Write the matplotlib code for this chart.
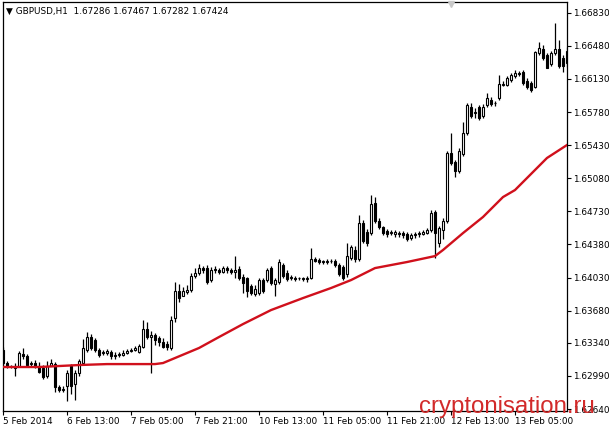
#!/usr/bin/env python3
# GBPUSD H1 candles with a red moving average, MetaTrader look (white theme).
import matplotlib
matplotlib.use("Agg")
import matplotlib.pyplot as plt  # noqa: E402
import numpy as np  # noqa: E402

# --- data (one candle per hour, 142 visible bars) ---
opens = [
    1.6326, 1.6313, 1.6309, 1.6307, 1.6310, 1.6322, 1.6320, 1.6312, 1.6313, 1.6310,
    1.6307, 1.6299, 1.6310, 1.6312, 1.6287, 1.6284, 1.6288, 1.6309, 1.6290, 1.6302,
    1.6313, 1.6326, 1.6340, 1.6337, 1.6326, 1.6323, 1.6323, 1.6324, 1.6320, 1.6321,
    1.6321, 1.6323, 1.6325, 1.6326, 1.6324, 1.6330, 1.6349, 1.6340, 1.6342, 1.6339,
    1.6335, 1.6333, 1.6328, 1.6360, 1.6389, 1.6384, 1.6388, 1.6390, 1.6405, 1.6408,
    1.6413, 1.6413, 1.6400, 1.6411, 1.6411, 1.6409, 1.6413, 1.6411, 1.6409, 1.6412,
    1.6404, 1.6402, 1.6394, 1.6386, 1.6387, 1.6400, 1.6400, 1.6413, 1.6396, 1.6398,
    1.6416, 1.6408, 1.6402, 1.6403, 1.6402, 1.6401, 1.6401, 1.6402, 1.6423, 1.6422,
    1.6419, 1.6419, 1.6420, 1.6421, 1.6416, 1.6414, 1.6407, 1.6424, 1.6432, 1.6423,
    1.6461, 1.6451, 1.6450, 1.6482, 1.6463, 1.6456, 1.6452, 1.6450, 1.6449, 1.6450,
    1.6450, 1.6449, 1.6445, 1.6448, 1.6449, 1.6449, 1.6450, 1.6453, 1.6472, 1.6439,
    1.6453, 1.6463, 1.6535, 1.6525, 1.6516, 1.6534, 1.6556, 1.6583, 1.6577, 1.6583,
    1.6574, 1.6585, 1.6591, 1.6587, 1.6593, 1.6607, 1.6607, 1.6612, 1.6616, 1.6619,
    1.6620, 1.6611, 1.6609, 1.6604, 1.6640, 1.6645, 1.6638, 1.6629, 1.6640, 1.6645,
    1.6635, 1.6630,
]
highs = [
    1.6330, 1.6315, 1.6311, 1.6313, 1.6325, 1.6328, 1.6322, 1.6315, 1.6316, 1.6314,
    1.6311, 1.6315, 1.6317, 1.6314, 1.6289, 1.6288, 1.6305, 1.6312, 1.6305, 1.6317,
    1.6338, 1.6345, 1.6343, 1.6339, 1.6328, 1.6326, 1.6327, 1.6326, 1.6324, 1.6324,
    1.6326, 1.6327, 1.6328, 1.6331, 1.6333, 1.6358, 1.6356, 1.6347, 1.6344, 1.6341,
    1.6339, 1.6336, 1.6362, 1.6398, 1.6396, 1.6393, 1.6395, 1.6408, 1.6413, 1.6417,
    1.6415, 1.6416, 1.6414, 1.6415, 1.6413, 1.6415, 1.6415, 1.6413, 1.6426, 1.6415,
    1.6407, 1.6404, 1.6396, 1.6395, 1.6402, 1.6402, 1.6413, 1.6415, 1.6402, 1.6423,
    1.6418, 1.6411, 1.6406, 1.6405, 1.6404, 1.6404, 1.6405, 1.6434, 1.6425, 1.6424,
    1.6422, 1.6423, 1.6423, 1.6423, 1.6418, 1.6416, 1.6439, 1.6437, 1.6436, 1.6469,
    1.6464, 1.6454, 1.6490, 1.6488, 1.6466, 1.6458, 1.6454, 1.6453, 1.6453, 1.6452,
    1.6452, 1.6451, 1.6450, 1.6451, 1.6452, 1.6453, 1.6455, 1.6474, 1.6474, 1.6457,
    1.6466, 1.6537, 1.6556, 1.6527, 1.6540, 1.6567, 1.6587, 1.6587, 1.6582, 1.6585,
    1.6586, 1.6598, 1.6594, 1.6590, 1.6617, 1.6611, 1.6616, 1.6619, 1.6622, 1.6621,
    1.6622, 1.6614, 1.6611, 1.6643, 1.6652, 1.6649, 1.6640, 1.6643, 1.6672, 1.6654,
    1.6638, 1.6647,
]
lows = [
    1.6311, 1.6307, 1.6307, 1.6299, 1.6309, 1.6317, 1.6309, 1.6309, 1.6307, 1.6302,
    1.6296, 1.6297, 1.6309, 1.6282, 1.6282, 1.6282, 1.6272, 1.6280, 1.6274, 1.6299,
    1.6311, 1.6324, 1.6326, 1.6324, 1.6319, 1.6321, 1.6321, 1.6317, 1.6317, 1.6319,
    1.6320, 1.6322, 1.6324, 1.6325, 1.6323, 1.6328, 1.6338, 1.6302, 1.6332, 1.6331,
    1.6328, 1.6326, 1.6326, 1.6356, 1.6377, 1.6383, 1.6386, 1.6388, 1.6403, 1.6406,
    1.6408, 1.6396, 1.6398, 1.6408, 1.6407, 1.6408, 1.6408, 1.6407, 1.6402, 1.6400,
    1.6387, 1.6382, 1.6385, 1.6384, 1.6385, 1.6387, 1.6398, 1.6395, 1.6384, 1.6396,
    1.6403, 1.6399, 1.6400, 1.6399, 1.6400, 1.6399, 1.6398, 1.6401, 1.6419, 1.6417,
    1.6417, 1.6417, 1.6418, 1.6414, 1.6405, 1.6400, 1.6404, 1.6422, 1.6419, 1.6421,
    1.6439, 1.6436, 1.6448, 1.6461, 1.6454, 1.6448, 1.6446, 1.6448, 1.6446, 1.6446,
    1.6445, 1.6442, 1.6443, 1.6445, 1.6446, 1.6448, 1.6449, 1.6451, 1.6424, 1.6435,
    1.6444, 1.6461, 1.6522, 1.6509, 1.6514, 1.6532, 1.6554, 1.6572, 1.6572, 1.6570,
    1.6572, 1.6583, 1.6584, 1.6584, 1.6591, 1.6605, 1.6605, 1.6610, 1.6614, 1.6616,
    1.6607, 1.6602, 1.6599, 1.6603, 1.6638, 1.6633, 1.6624, 1.6627, 1.6638, 1.6624,
    1.6620, 1.6626,
]
closes = [
    1.6313, 1.6309, 1.6310, 1.6310, 1.6323, 1.6320, 1.6311, 1.6313, 1.6310, 1.6303,
    1.6298, 1.6310, 1.6313, 1.6287, 1.6284, 1.6285, 1.6302, 1.6288, 1.6302, 1.6315,
    1.6328, 1.6340, 1.6328, 1.6326, 1.6321, 1.6324, 1.6325, 1.6320, 1.6321, 1.6322,
    1.6323, 1.6325, 1.6326, 1.6329, 1.6331, 1.6349, 1.6340, 1.6342, 1.6337, 1.6335,
    1.6330, 1.6330, 1.6358, 1.6389, 1.6381, 1.6389, 1.6390, 1.6405, 1.6408, 1.6413,
    1.6411, 1.6398, 1.6411, 1.6412, 1.6409, 1.6413, 1.6411, 1.6409, 1.6411, 1.6402,
    1.6397, 1.6389, 1.6387, 1.6391, 1.6400, 1.6389, 1.6411, 1.6397, 1.6400, 1.6419,
    1.6405, 1.6401, 1.6404, 1.6401, 1.6403, 1.6402, 1.6403, 1.6423, 1.6421, 1.6419,
    1.6420, 1.6420, 1.6421, 1.6416, 1.6407, 1.6402, 1.6426, 1.6435, 1.6423, 1.6461,
    1.6442, 1.6439, 1.6481, 1.6463, 1.6456, 1.6450, 1.6449, 1.6451, 1.6451, 1.6449,
    1.6448, 1.6444, 1.6448, 1.6449, 1.6450, 1.6451, 1.6453, 1.6471, 1.6450, 1.6455,
    1.6463, 1.6535, 1.6524, 1.6516, 1.6537, 1.6556, 1.6585, 1.6574, 1.6578, 1.6572,
    1.6583, 1.6593, 1.6586, 1.6588, 1.6608, 1.6608, 1.6614, 1.6617, 1.6619, 1.6618,
    1.6609, 1.6604, 1.6601, 1.6641, 1.6646, 1.6635, 1.6625, 1.6640, 1.6645, 1.6627,
    1.6627, 1.6643,
]

# moving average (red line), sampled at these bar numbers
ma_bars = [0, 9, 19, 26, 38, 40, 43, 49, 54, 60, 67, 75, 82, 87, 93, 101,
           108, 110, 115, 120, 125, 128, 136, 141]
ma_values = [1.63084, 1.63084, 1.63105, 1.63115, 1.63115, 1.63126, 1.63179,
             1.63285, 1.63401, 1.63538, 1.63686, 1.63813, 1.63919, 1.64003,
             1.64130, 1.64194, 1.64257, 1.64321, 1.64500, 1.64670, 1.64881,
             1.64955, 1.65294, 1.65431]

price_ticks = [1.66830, 1.66480, 1.66130, 1.65780, 1.65430, 1.65080, 1.64730,
               1.64380, 1.64030, 1.63680, 1.63340, 1.62990, 1.62640]
time_labels = ["5 Feb 2014", "6 Feb 13:00", "7 Feb 05:00", "7 Feb 21:00",
               "10 Feb 13:00", "11 Feb 05:00", "11 Feb 21:00", "12 Feb 13:00",
               "13 Feb 05:00"]
title = "GBPUSD,H1  1.67286 1.67467 1.67282 1.67424"

FONT = "DejaVu Sans"
FS = 6.4


def main():
    o = np.array(opens)
    h = np.array(highs)
    l = np.array(lows)
    c = np.array(closes)
    x = np.arange(len(o))
    up = c >= o

    fig = plt.figure(figsize=(6.09, 4.30), dpi=100)
    ax = fig.add_axes([3 / 609, 19 / 430, 564 / 609, 409 / 430])

    # wicks, then bodies on top (white = bull, black = bear)
    ax.vlines(x, l, h, color="black", linewidth=0.9, zorder=2)
    ax.bar(x[up], (c - o)[up], bottom=o[up], width=0.6, color="white",
           edgecolor="black", linewidth=0.8, zorder=3)
    ax.bar(x[~up], (o - c)[~up], bottom=c[~up], width=0.6, color="black",
           edgecolor="black", linewidth=0.8, zorder=3)

    ax.plot(ma_bars, ma_values, color="#d0101c", linewidth=1.7, zorder=4,
            solid_joinstyle="round")

    ax.set_xlim(0, len(o) - 1)
    ax.set_ylim(1.62619, 1.66943)

    ax.yaxis.tick_right()
    ax.set_yticks(price_ticks)
    ax.set_yticklabels([f"{p:.5f}" for p in price_ticks], fontsize=FS, family=FONT)
    ax.tick_params(axis="y", direction="out", length=3, width=0.8, pad=1.5)

    ax.set_xticks(np.arange(0, len(o), 16)[:len(time_labels)])
    ax.set_xticklabels(time_labels, fontsize=FS, family=FONT, ha="left")
    ax.tick_params(axis="x", direction="out", length=3, width=0.8, pad=1.5)

    for s in ax.spines.values():
        s.set_color("black")
        s.set_linewidth(0.9)

    ax.text(0.006, 0.988, "\u25bc " + title, transform=ax.transAxes,
            fontsize=FS, family=FONT, va="top", ha="left")
    # chart-shift marker at the top edge
    ax.plot([112], [0.995], marker="v", markersize=5, color="#c8c8c8",
            transform=ax.get_xaxis_transform(), clip_on=False, zorder=5)

    fig.text(419 / 609, 17 / 430, "cryptonisation.ru", color="#d22a2a",
             fontsize=17.3, family="Liberation Sans", ha="left", va="baseline",
             zorder=10)

    fig.savefig("out.png", dpi=100)
    plt.close(fig)


if __name__ == "__main__":
    main()
